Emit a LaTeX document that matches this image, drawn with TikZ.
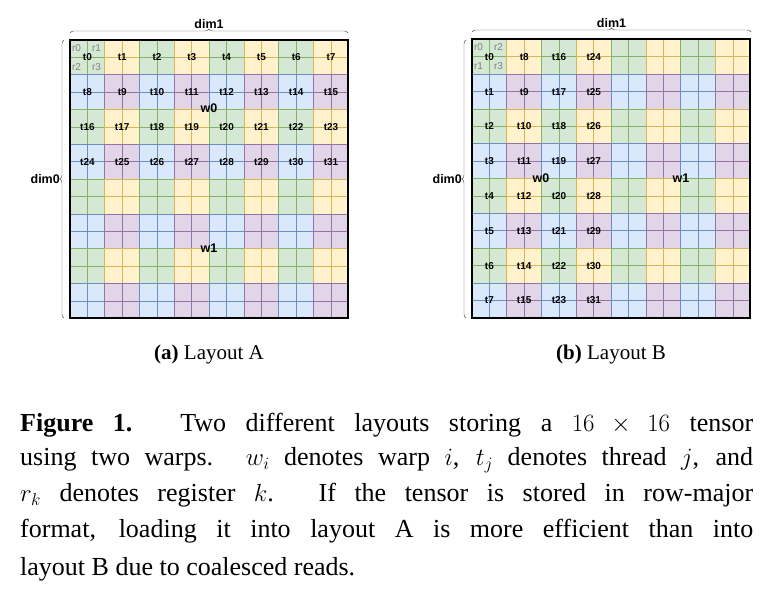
\documentclass[tikz,border=0pt]{standalone}
\usepackage{fontspec}
\setmainfont{Liberation Serif}
\newfontfamily\lblf{Liberation Sans}
\usetikzlibrary{decorations.pathreplacing}
\definecolor{gF}{HTML}{D5E8D4}\definecolor{gD}{HTML}{82B366}
\definecolor{yF}{HTML}{FFF2CC}\definecolor{yD}{HTML}{D6B656}
\definecolor{bF}{HTML}{DAE8FC}\definecolor{bD}{HTML}{6C8EBF}
\definecolor{pF}{HTML}{E1D5E7}\definecolor{pD}{HTML}{9673A6}
\tikzset{lbl/.style={font=\lblf\bfseries\fontsize{10}{10}\selectfont,inner sep=0pt},
 rl/.style={font=\lblf\fontsize{10}{10}\selectfont,text=gray,inner sep=0pt},
 wl/.style={font=\lblf\bfseries\fontsize{12.5}{12.5}\selectfont,inner sep=0pt},
 brc/.style={decorate,decoration={brace,amplitude=4pt},draw=black!70},
 captxt/.style={font=\fontsize{21}{21}\selectfont,inner sep=0pt},
 ln/.style={font=\fontsize{26}{26}\selectfont,anchor=west,inner sep=0pt}}
\newcommand{\mygrid}[3]{% x0, y0, cell
 \foreach \br in {0,...,7}{\foreach \bc in {0,...,7}{
  \pgfmathtruncatemacro{\k}{mod(\br,2)*2+mod(\bc,2)}
  \ifcase\k \def\ff{gF}\def\dd{gD}\or\def\ff{yF}\def\dd{yD}\or\def\ff{bF}\def\dd{bD}\else\def\ff{pF}\def\dd{pD}\fi
  \foreach \i in {0,1}{\foreach \j in {0,1}{
   \draw[fill=\ff,draw=\dd,line width=0.9pt] ({#1+(2*\bc+\j)*#3},{#2+(2*\br+\i)*#3}) rectangle ++(#3,#3);}}
 }}
 \draw[line width=2pt] (#1,#2) rectangle ++({16*#3},{16*#3});
}
\begin{document}
\begin{tikzpicture}[x=1pt,y=-1pt]
\useasboundingbox (0,0) rectangle (773,593);
% Layout A
\mygrid{70}{40}{17.4}
\foreach \r in {0,...,3}{\foreach \c in {0,...,7}{
 \pgfmathtruncatemacro{\t}{\r*8+\c}
 \node[lbl] (a\t) at ({70+(2*\c+1)*17.4},{40+(2*\r+1)*17.4}) {t\t};}}
\node[rl] (ar0) at (76.5,48) {r0};\node[rl] (ar1) at (96.5,48) {r1};
\node[rl] (ar2) at (76.5,67) {r2};\node[rl] (ar3) at (96.5,67) {r3};
\node[wl] (aw0) at (209,108) {w0};
\node[wl] (aw1) at (209,248) {w1};
\coordinate (aTL) at (70,33);\coordinate (aTR) at (348,33);
\draw[brc] (aTL) -- node[above=4pt,wl] (ad1) {dim1} (aTR);
\coordinate (aLB) at (64,318);\coordinate (aLT) at (64,40);
\draw[brc] (aLB) -- node[left=4pt,wl] (ad0) {dim0} (aLT);
% Layout B
\mygrid{472}{39.5}{17.4}
\foreach \r in {0,...,7}{\foreach \c in {0,...,3}{
 \pgfmathtruncatemacro{\t}{\c*8+\r}
 \node[lbl] (b\t) at ({472+(2*\c+1)*17.4},{39.5+(2*\r+1)*17.4}) {t\t};}}
\node[rl] (br0) at (478.5,47.5) {r0};\node[rl] (br2) at (498.5,47.5) {r2};
\node[rl] (br1) at (478.5,66.5) {r1};\node[rl] (br3) at (498.5,66.5) {r3};
\node[wl] (bw0) at (541,178) {w0};
\node[wl] (bw1) at (681,178) {w1};
\coordinate (bTL) at (472,32);\coordinate (bTR) at (751,32);
\draw[brc] (bTL) -- node[above=4pt,wl] (bd1) {dim1} (bTR);
\coordinate (bLB) at (466,318);\coordinate (bLT) at (466,40);
\draw[brc] (bLB) -- node[left=4pt,wl] (bd0) {dim0} (bLT);
% captions
\node[captxt] (ca) at (209,354) {\textbf{(a)} Layout A};
\node[captxt] (cb) at (611,354) {\textbf{(b)} Layout B};
\node[ln] (l1) at (20,425) {\makebox[733pt][s]{\textbf{Figure 1.} Two different layouts storing a $16\times16$ tensor}};
\node[ln] (l2) at (20,460) {\makebox[733pt][s]{using two warps. $w_i$ denotes warp $i$, $t_j$ denotes thread $j$, and}};
\node[ln] (l3) at (20,495) {\makebox[733pt][s]{$r_k$ denotes register $k$. If the tensor is stored in row-major}};
\node[ln] (l4) at (20,531) {\makebox[733pt][s]{format, loading it into layout A is more efficient than into}};
\node[ln] (l5) at (20,569) {layout B due to coalesced reads.};
\end{tikzpicture}
\end{document}
